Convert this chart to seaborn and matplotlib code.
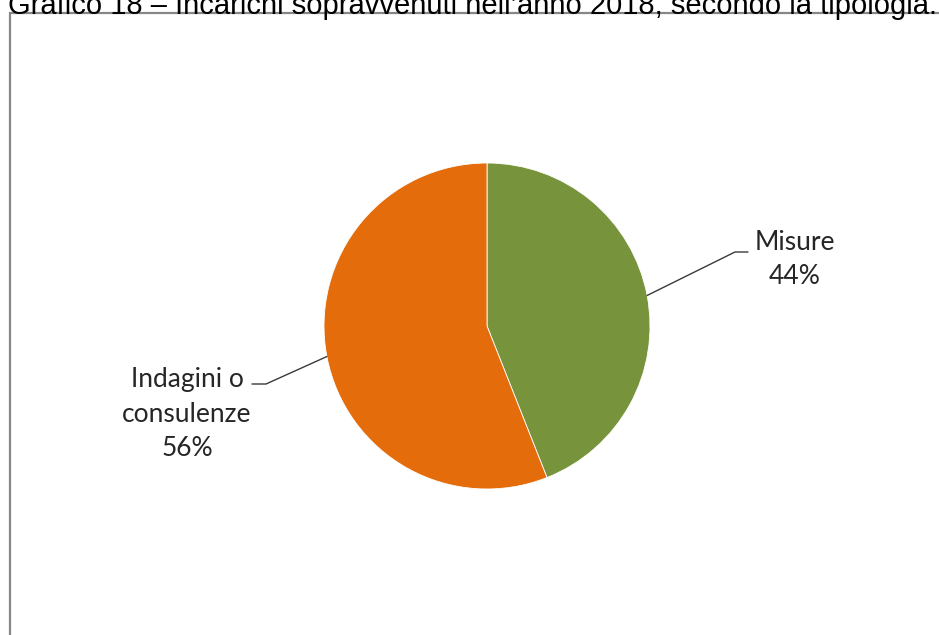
import numpy as np
import matplotlib
matplotlib.use("Agg")
import matplotlib.pyplot as plt
import seaborn as sns
from matplotlib.patches import Rectangle

sns.set_theme(style="white")

# Data
categories = ["Misure", "Indagini o\nconsulenze"]
values = [44, 56]
colors = ["#77933C", "#E46C0A"]
title = "Grafico 18 \u2013 Incarichi sopravvenuti nell\u2019anno 2018, secondo la tipologia."

W, H = 939, 635
fig = plt.figure(figsize=(W / 100, H / 100), dpi=100)
ax = fig.add_axes([0, 0, 1, 1])
ax.set_xlim(0, W)
ax.set_ylim(0, H)
ax.set_aspect("equal")
ax.axis("off")

# chart frame
ax.add_patch(Rectangle((10, -20), W + 20, H - 13 + 20, fill=False,
                       edgecolor="#878787", linewidth=1.6, zorder=0))

cx, cy, r = 487, H - 326, 163
wedges, _ = ax.pie(values, colors=colors, startangle=90, counterclock=False,
                   center=(cx, cy), radius=r, frame=True,
                   wedgeprops=dict(linewidth=0.6, edgecolor="white"))
ax.set_xlim(0, W)
ax.set_ylim(0, H)
ax.axis("off")

# labels with leader lines
label_font = dict(family=["Lato", "DejaVu Sans"], fontsize=19, color="#262626")
specs = [
    dict(elbow=(735, H - 252), end=(748, H - 252), text=(795, H - 259), ha="center"),
    dict(elbow=(266, H - 384), end=(252, H - 384), text=(187, H - 414), ha="center"),
]
for w, cat, v, s in zip(wedges, categories, values, specs):
    ang = np.deg2rad((w.theta1 + w.theta2) / 2)
    px, py = cx + r * np.cos(ang), cy + r * np.sin(ang)
    ax.plot([px, s["elbow"][0], s["end"][0]], [py, s["elbow"][1], s["end"][1]],
            color="#3a3a3a", lw=1.0)
    ax.text(s["text"][0], s["text"][1], f"{cat}\n{v}%", ha=s["ha"], va="center",
            linespacing=1.45, **label_font)

fig.text(8 / W, 1 - 14 / H, title, ha="left", va="baseline",
         family=["Liberation Sans", "DejaVu Sans"], fontsize=21, color="black")

fig.savefig("out.png", dpi=100)
